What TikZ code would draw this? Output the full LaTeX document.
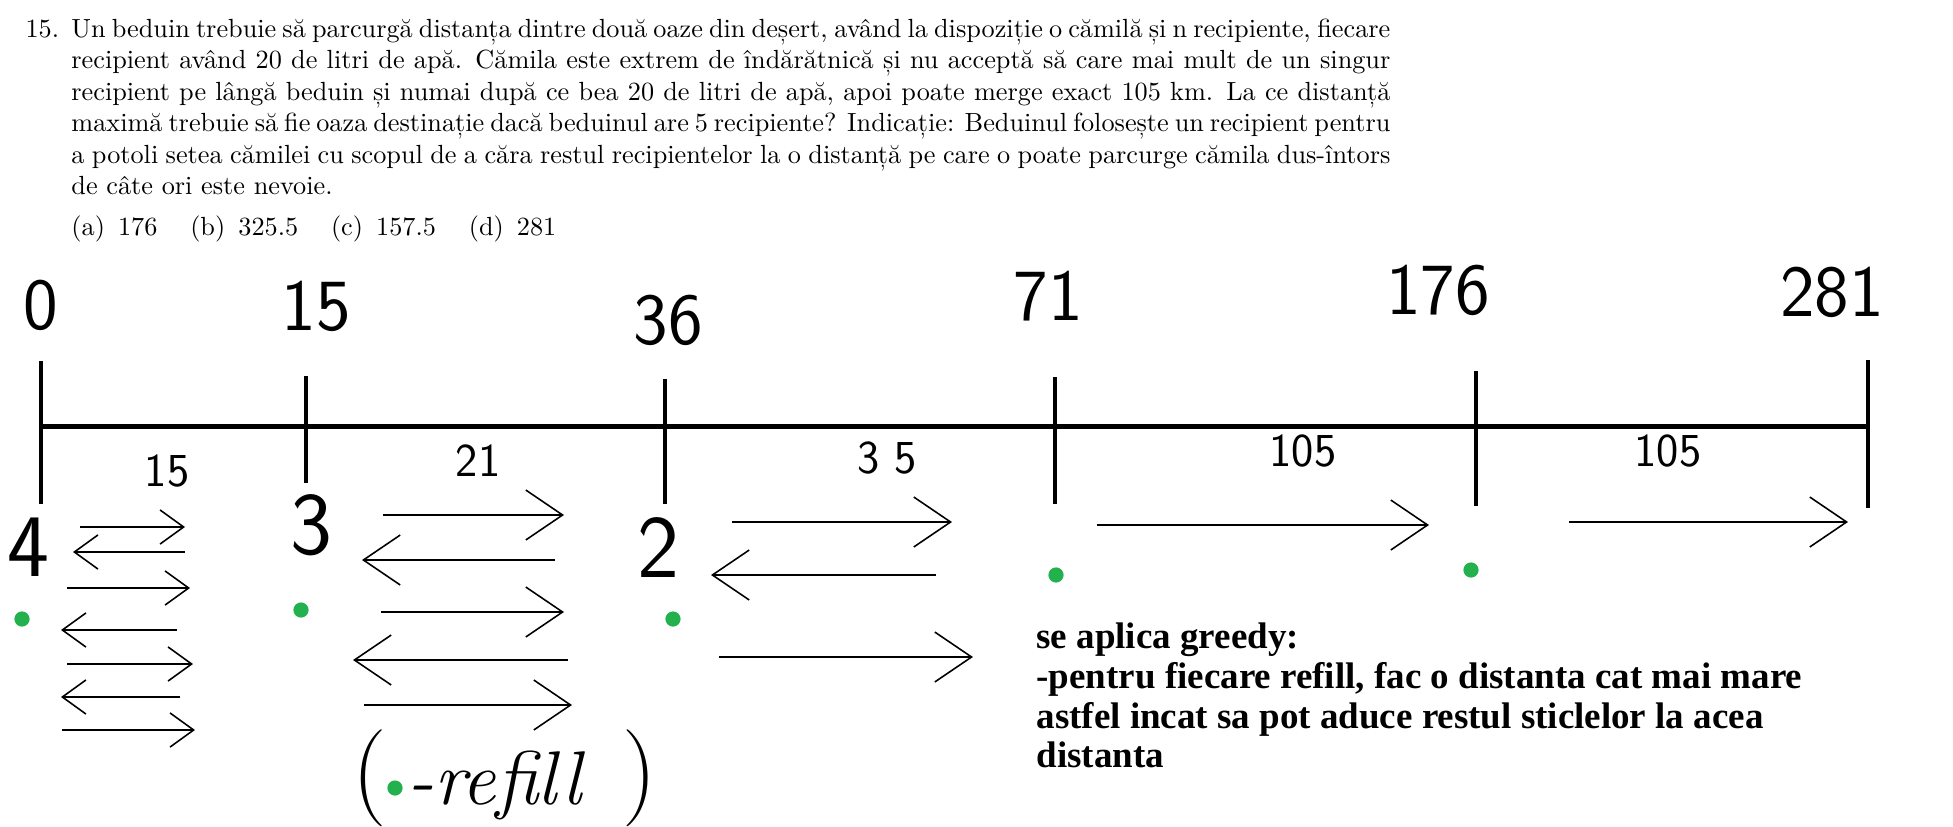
\documentclass[tikz,border=0pt]{standalone}
\usepackage{fontspec}
\usepackage{tikz}
\usetikzlibrary{arrows.meta,positioning}
\newfontfamily\notefont{Liberation Serif}
\definecolor{paintgreen}{HTML}{22B14C}

\begin{document}
\begin{tikzpicture}[x=0.381pt,y=-0.381pt,
      axis/.style={line width=1.9pt},
      tick/.style={line width=1.5pt},
      km/.style={font=\sffamily\fontsize{28}{28}\selectfont,inner sep=0pt},
      seg/.style={font=\sffamily\fontsize{18}{18}\selectfont,inner sep=0pt},
      cnt/.style={font=\sffamily\fontsize{34}{34}\selectfont,inner sep=0pt},
      gdot/.style={circle,fill=paintgreen,inner sep=0pt,minimum size=5.8pt},
      trip/.style={line width=0.6pt,-{Straight Barb[length=9pt,width=13pt]}},
      longtrip/.style={line width=0.6pt,-{Straight Barb[length=14pt,width=19pt]}},
      note/.style={font=\notefont\bfseries\fontsize{14.1}{15.2}\selectfont,
                   align=left,anchor=north west,inner sep=0pt}]
    \useasboundingbox (0,0) rectangle (1953,826);
    \node[anchor=north west,inner sep=0pt,text width=520pt,align=justify] (question) at (25,18)
      {\hangindent=17.5pt\hangafter=1\makebox[17.5pt][l]{15.}Un beduin trebuie să parcurgă
      distanța dintre două oaze din deșert, având la dispoziție o cămilă și n recipiente,
      fiecare\linebreak recipient având 20 de litri de apă. Cămila este extrem de
      îndărătnică și nu acceptă să care mai mult de un singur\linebreak recipient pe lângă
      beduin și numai după ce bea 20 de litri de apă, apoi poate merge exact 105 km. La ce
      distanță\linebreak maximă trebuie să fie oaza destinație dacă beduinul are 5
      recipiente? Indicație: Beduinul folosește un recipient pentru\linebreak a potoli setea
      cămilei cu scopul de a căra restul recipientelor la o distanță pe care o poate
      parcurge cămila dus-întors\linebreak de câte ori este nevoie.\par\vspace{3.6pt}
      \noindent\hspace*{17.5pt}(a)\hspace{0.5em}176\hspace{1.25em}(b)\hspace{0.5em}325.5\hspace{1.25em}(c)\hspace{0.5em}157.5\hspace{1.25em}(d)\hspace{0.5em}281};
    \draw[axis] (41,426) -- (1868,426);
    \foreach \x/\a/\b in {41/361/504,306/376/483,665/379/504,1055/377/504,1476/371/506,1868/360/508}
      \draw[tick] (\x,\a) -- (\x,\b);
    \foreach \x/\y/\t [count=\i] in {41/305/0,316/306/15,668/320/36,1048/296/71,1438/290/176,1832/292/281}
      \node[km] (k\i) at (\x,\y) {\t};
    \foreach \x/\y/\t [count=\i] in {167/471/15,478/461/21,887/458/{3 5},1303/451/105,1668/451/105}
      \node[seg] (d\i) at (\x,\y) {\t};
    \node[cnt] (n4) at (28,547) {4};
    \node[cnt] (n3) at (311,525) {3};
    \node[cnt] (n2) at (658,548) {2};
    \foreach \x/\y [count=\i] in {22/619,301/610,673/619,1056/575,1471/570}
      \node[gdot] (r\i) at (\x,\y) {};
    \foreach \y/\a/\b in {527/80/185,552/185/73,588/67/190,630/177/61,664/67/193,697/180/61,730/62/195}
      \draw[trip] (\a,\y) -- (\b,\y);
    \foreach \y/\a/\b in {515/383/564,560/555/362,612/381/564,660/568/353,705/364/572,
                          522/732/952,575/936/711,657/719/973,525/1097/1429,522/1569/1848}
      \draw[longtrip] (\a,\y) -- (\b,\y);
    \node[font=\fontsize{37}{37}\selectfont,inner sep=0pt] (lpar) at (370,778) {(};
    \node[gdot] (key) at (395,788) {};
    \node[font=\itshape\fontsize{29}{29}\selectfont,inner sep=0pt,anchor=west] (keytxt) at (407,785) {-refill};
    \node[font=\fontsize{37}{37}\selectfont,inner sep=0pt] (rpar) at (640,778) {)};
    \node[note] (greedy) at (1036,622) {se aplica greedy:\\-pentru fiecare refill, fac o distanta cat mai mare\\
      astfel incat sa pot aduce restul sticlelor la acea\\distanta};
  \end{tikzpicture}
\end{document}
